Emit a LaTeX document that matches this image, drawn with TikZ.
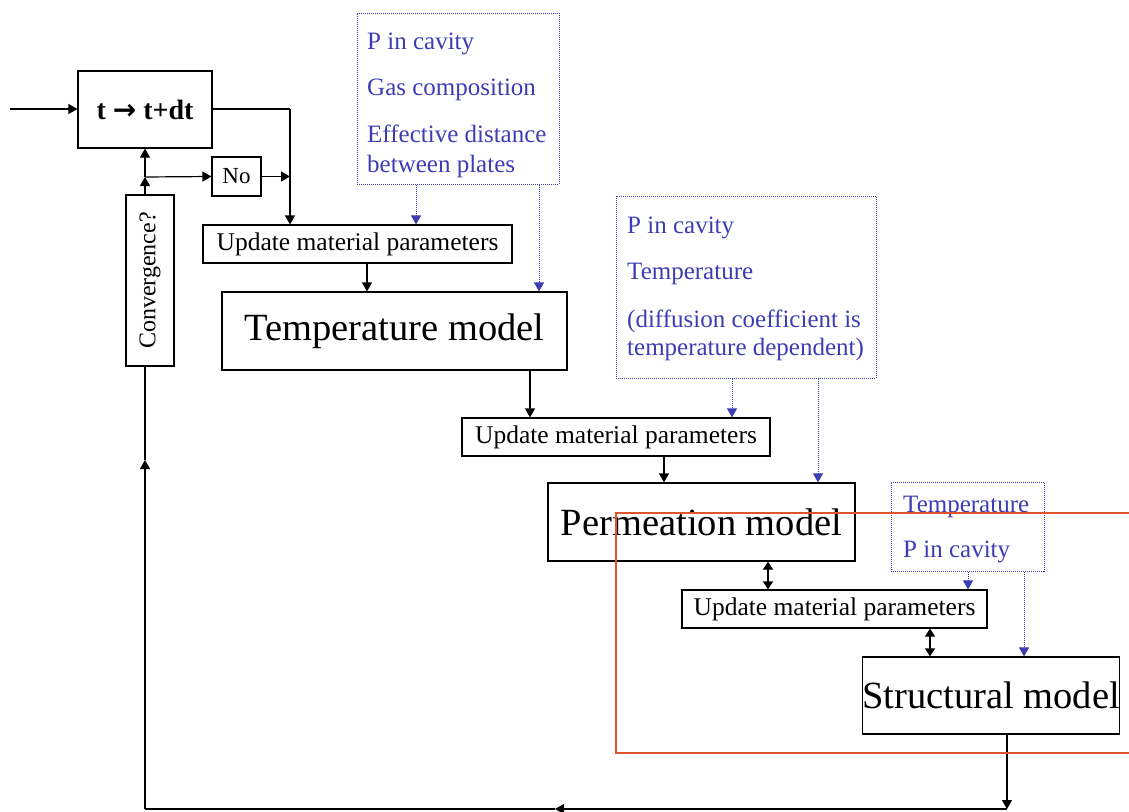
\documentclass[tikz,border=0pt]{standalone}
\usepackage{fontspec}
\setmainfont{Liberation Serif}
\newfontfamily\arrowfont{DejaVu Sans}
\usetikzlibrary{arrows.meta}
\definecolor{bluetxt}{RGB}{60,60,180}
\definecolor{redline}{RGB}{222,84,44}
\begin{document}
\begin{tikzpicture}[x=1pt,y=-1pt,
  box/.style={draw, line width=1.2pt, inner sep=0pt},
  ln/.style={line width=1.2pt},
  arr/.style={line width=1.2pt, -{Triangle[length=9pt,width=10pt]}},
  darr/.style={line width=1.2pt, {Triangle[length=8pt,width=10pt]}-{Triangle[length=8pt,width=10pt]}},
  barr/.style={draw=bluetxt, densely dotted, line width=1pt, -{Triangle[length=9pt,width=10pt,fill=bluetxt]}},
  bbox/.style={draw=bluetxt, densely dotted, line width=1pt, inner sep=0pt},
  btxt/.style={text=bluetxt, font=\fontsize{25}{28}\selectfont, anchor=base west, inner sep=0pt},
  upd/.style={box, font=\fontsize{25.5}{28}\selectfont},
  model/.style={box, font=\fontsize{38.5}{42}\selectfont},
]
\useasboundingbox (0,0) rectangle (1129,811);

% left loop
\node[box, minimum width=134pt, minimum height=77pt, font=\fontsize{28}{32}\selectfont\bfseries] (tb) at (145,109.5) {t {\arrowfont →} t+dt};
\node[box, minimum width=49pt, minimum height=39pt, font=\fontsize{23}{26}\selectfont] (no) at (236.5,176.5) {No};
\node[box, minimum width=48pt, minimum height=171pt] (conv) at (150,280.5) {};
\node[rotate=90, font=\fontsize{24}{28}\selectfont, inner sep=0pt] (convt) at (conv.center) {Convergence?};

\coordinate (in) at (10,109);
\coordinate (tout) at (212,109);
\coordinate (c1) at (290,109);
\coordinate (jn) at (145,177);

% chain
\node[upd, minimum width=309pt, minimum height=38pt] (up1) at (357.5,244) {Update material parameters};
\node[model, minimum width=345pt, minimum height=78pt] (tm) at (394.5,331) {Temperature model};
\node[upd, minimum width=308pt, minimum height=38pt] (up2) at (616,437) {Update material parameters};
\node[model, minimum width=307pt, minimum height=78pt] (pm) at (701.5,522) {Permeation model};
\node[upd, minimum width=305pt, minimum height=38pt] (up3) at (834.5,609) {Update material parameters};
\node[model, minimum width=256pt, minimum height=77pt] (st) at (991,695.5) {Structural model};

% blue boxes
\node[bbox, minimum width=202pt, minimum height=171pt] (bb1) at (458,98.5) {};
\node[btxt] (t11) at (367,49) {P in cavity};
\node[btxt] (t12) at (367,95) {Gas composition};
\node[btxt] (t13) at (367,142) {Effective distance};
\node[btxt] (t14) at (367,172) {between plates};

\node[bbox, minimum width=260pt, minimum height=182pt] (bb2) at (746,287) {};
\node[btxt] (t21) at (627,233) {P in cavity};
\node[btxt] (t22) at (627,279) {Temperature};
\node[btxt] (t23) at (627,327) {(diffusion coefficient is};
\node[btxt] (t24) at (627,355) {temperature dependent)};

\node[bbox, minimum width=153pt, minimum height=89pt] (bb3) at (967.5,526.5) {};
\node[btxt] (t31) at (903,512) {Temperature};
\node[btxt] (t32) at (903,557) {P in cavity};

% connectors, left loop
\draw[arr] (in) -- (tout -| tb.west);
\draw[ln] (tout) -- (c1);
\draw[arr] (c1) -- (up1.north -| c1);
\draw[arr] (conv.north -| tb.south) -- (jn);
\draw[arr] (jn) -- (tb.south);
\draw[arr] (jn) -- (no.west);
\draw[arr] (no.east) -- (no.east -| c1);

% chain connectors
\draw[arr] (up1.south -| 367,0) -- (tm.north -| 367,0);
\draw[arr] (tm.south -| 530,0) -- (up2.north -| 530,0);
\draw[arr] (up2.south -| 664,0) -- (pm.north -| 664,0);
\draw[darr] (pm.south -| 768,0) -- (up3.north -| 768,0);
\draw[darr] (up3.south -| 930,0) -- (st.north -| 930,0);

% blue connectors
\draw[barr] (bb1.south -| 416,0) -- (up1.north -| 416,0);
\draw[barr] (bb1.south -| 539,0) -- (tm.north -| 539,0);
\draw[barr] (bb2.south -| 732,0) -- (up2.north -| 732,0);
\draw[barr] (bb2.south -| 818,0) -- (pm.north -| 818,0);
\draw[barr] (bb3.south -| 968,0) -- (up3.north -| 968,0);
\draw[barr] (bb3.south -| 1024,0) -- (st.north -| 1024,0);

% feedback
\coordinate (bt1) at (1007,809);
\coordinate (m1) at (555,809);
\coordinate (bt2) at (145,809);
\coordinate (m2) at (145,460);
\draw[arr] (st.south -| bt1) -- (bt1);
\draw[arr] (bt1) -- (m1);
\draw[ln] (m1) -- (bt2);
\draw[arr] (bt2) -- (m2);
\draw[ln] (m2) -- (conv.south -| tb.south);

% red frame
\draw[redline, line width=1.3pt] (1132,513) -- (616,513) -- (616,753) -- (1132,753);
\end{tikzpicture}
\end{document}
